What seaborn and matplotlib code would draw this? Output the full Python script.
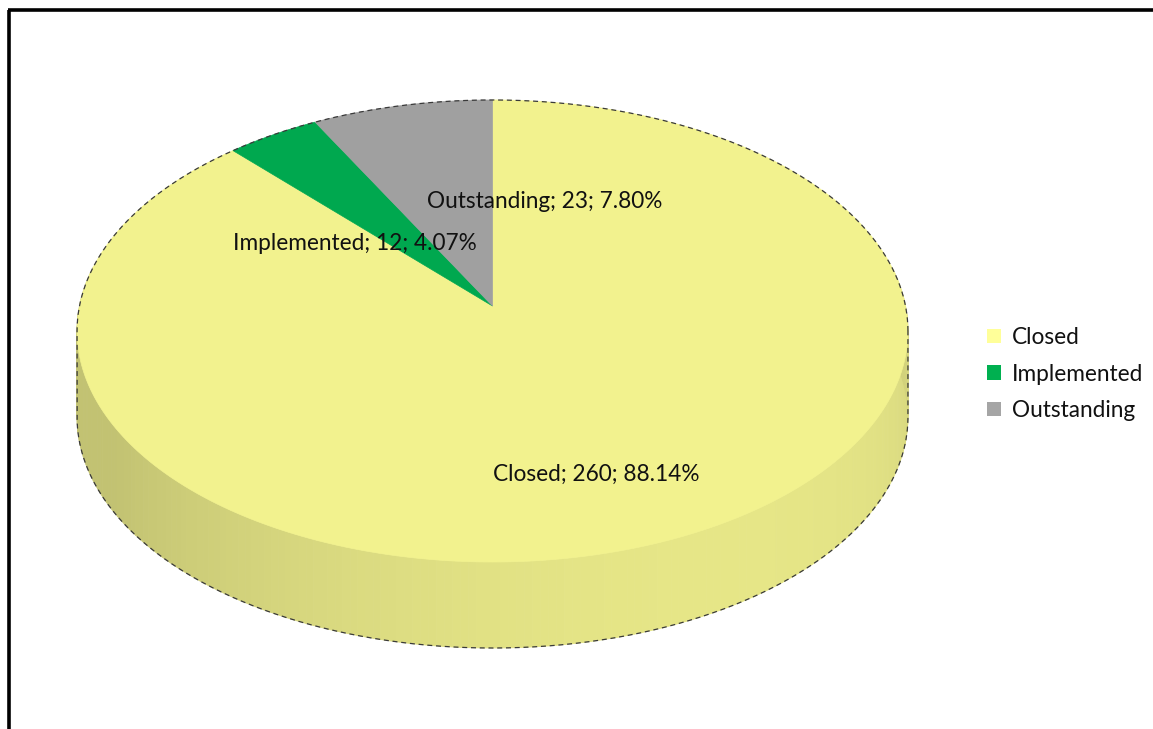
import numpy as np
import matplotlib
matplotlib.use("Agg")
import matplotlib.pyplot as plt
from matplotlib.patches import Polygon, Patch
import seaborn as sns

# ---- data ----
categories = ["Closed", "Implemented", "Outstanding"]
counts = [260, 12, 23]
percent_labels = ["88.14%", "4.07%", "7.80%"]
colors_top = ["#F2F28E", "#00A84F", "#A0A0A0"]
colors_legend = ["#FFFF99", "#00B050", "#A5A5A5"]

sns.set_theme(style="white")
plt.rcParams["font.family"] = ["Lato", "DejaVu Sans"]

W, H = 1153, 729
fig = plt.figure(figsize=(W / 100, H / 100), dpi=100)
ax = fig.add_axes([0, 0, 1, 1])
ax.set_xlim(0, W)
ax.set_ylim(H, 0)
ax.axis("off")

# ---- perspective geometry of the pie ----
CX, CY = 492.5, 306.0   # apex of the pie on screen
K = 413.0               # horizontal radius
A, C = -195.2, 0.1082   # perspective params (vertical)
DEPTH = 86.0


def proj(theta_deg, r=1.0):
    t = np.deg2rad(theta_deg)
    u, v = r * np.cos(t), r * np.sin(t)
    d = 1 + C * v
    return CX + K * u / d, (CY + A * v) / d


def shade(hexcol, f):
    rgb = np.array(matplotlib.colors.to_rgb(hexcol))
    return tuple(np.clip(rgb * f, 0, 1))


# slice angles: first slice starts at 12 o'clock, clockwise (Excel style)
total = float(sum(counts))
fracs = [c / total for c in counts]
starts, ends = [], []
ang = 90.0
for f in fracs:
    starts.append(ang)
    ang -= 360 * f
    ends.append(ang)


def slice_of(theta):
    for i, (s, e) in enumerate(zip(starts, ends)):
        t = theta
        while t > s:
            t -= 360
        while t < e:
            t += 360
        if e <= t <= s:
            return i
    return 0


# ---- side wall (front half) ----
step = 1.0
light = 300.0
for th in np.arange(180 - 10, 370, step):
    th2 = th + step
    x1, y1 = proj(th)
    x2, y2 = proj(th2)
    i = slice_of(th + step / 2)
    f = 0.80 + 0.15 * max(0.0, np.cos(np.deg2rad(th + step / 2 - light)))
    col = shade(colors_top[i], f)
    quad = Polygon([(x1, y1), (x2, y2), (x2, y2 + DEPTH), (x1, y1 + DEPTH)],
                   closed=True, facecolor=col, edgecolor=col, lw=0.6, zorder=1)
    ax.add_patch(quad)

# ---- top face slices ----
for i, (s, e) in enumerate(zip(starts, ends)):
    n = max(4, int(abs(s - e) * 2))
    ths = np.linspace(s, e, n)
    pts = [(CX, CY)] + [proj(t) for t in ths]
    ax.add_patch(Polygon(pts, closed=True, facecolor=colors_top[i],
                         edgecolor=colors_top[i], lw=0.5, zorder=2))

# ---- dashed silhouette ----
t_side = np.rad2deg(np.arcsin(-C))
right_t = t_side
left_t = 180 - t_side
top_arc = [proj(t) for t in np.linspace(right_t, left_t, 400)]
bot_arc = [proj(t) for t in np.linspace(left_t, 360 + right_t, 400)]
bot_arc = [(x, y + DEPTH) for x, y in bot_arc]
outline = top_arc + bot_arc + [top_arc[0]]
ox, oy = zip(*outline)
ax.plot(ox, oy, color="#3a3a3a", lw=0.9, ls=(0, (4, 3)), zorder=3)

# ---- data labels ----
label_pos = [(596, 474), (355, 243), (545, 201)]
for i, cat in enumerate(categories):
    ax.text(label_pos[i][0], label_pos[i][1],
            f"{cat}; {counts[i]}; {percent_labels[i]}",
            ha="center", va="center", fontsize=16.3, color="#111111", zorder=5)

# ---- legend ----
handles = [Patch(facecolor=colors_legend[i], edgecolor="none", label=categories[i])
           for i in range(len(categories))]
leg = ax.legend(handles=handles, loc="center left",
                bbox_to_anchor=(987, 374), bbox_transform=ax.transData,
                frameon=False, fontsize=16.3, handlelength=0.62, handleheight=0.62,
                handletextpad=0.5, labelspacing=0.68, borderpad=0,
                borderaxespad=0)
for t in leg.get_texts():
    t.set_color("#111111")

# ---- partial frame (top and left) ----
ax.plot([8, W], [10, 10], color="black", lw=2.6, solid_capstyle="butt", zorder=6)
ax.plot([9, 9], [10, H], color="black", lw=2.6, solid_capstyle="butt", zorder=6)

fig.savefig("out.png", dpi=100, facecolor="white")
